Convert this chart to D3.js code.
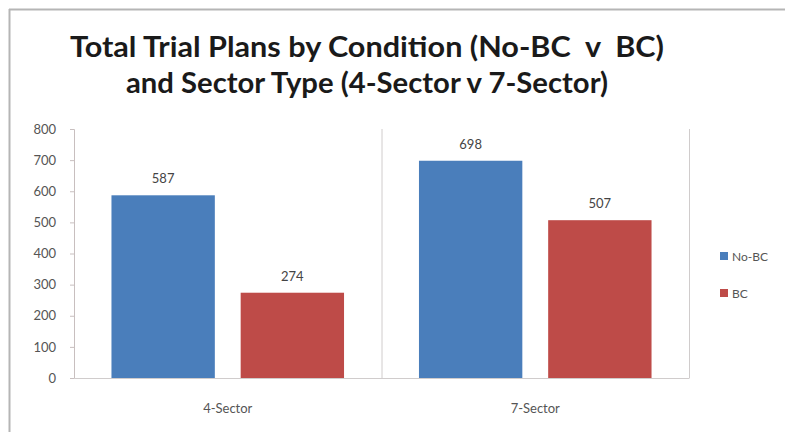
<!DOCTYPE html>
<html><head><meta charset="utf-8">
<script src="https://cdn.jsdelivr.net/npm/d3@7"></script>
<style>body{margin:0;background:#fff}svg{display:block}</style>
</head><body>
<svg id="c" width="785" height="432"></svg>
<script>
const categories = ["4-Sector", "7-Sector"];
const seriesNames = ["No-BC", "BC"];
const noBC = [587, 698];
const bc = [274, 507];
const yTicks = [0, 100, 200, 300, 400, 500, 600, 700, 800];
const titleLines = ["Total Trial Plans by Condition (No-BC  v  BC)", "and Sector Type (4-Sector v 7-Sector)"];
const colors = ["#4a7ebb", "#be4b48"];

const svg = d3.select("#c");
svg.append("rect").attr("width",785).attr("height",432).attr("fill","#fff");
// frame shadow lines (top and left)
svg.append("line").attr("x1",9).attr("x2",785).attr("y1",9.5).attr("y2",9.5).attr("stroke","#b5b5b5").attr("stroke-width",2);
svg.append("line").attr("x1",9.5).attr("x2",9.5).attr("y1",9).attr("y2",432).attr("stroke","#b5b5b5").attr("stroke-width",2);

const font = "Lato, 'Open Sans', 'Liberation Sans', sans-serif";
const L = 74, R = 689, T = 129, B = 378;
const x0 = d3.scaleBand().domain(categories).range([L, R]).padding(0);
const x1 = d3.scaleBand().domain(seriesNames).range([0, x0.bandwidth()]).paddingInner(0.2).paddingOuter(0.29);
const y = d3.scaleLinear().domain([0, 800]).range([B, T]);

// title
svg.append("g").selectAll("text").data(titleLines).join("text")
  .attr("x", 367).attr("y", (d,i)=> 57 + i*36)
  .attr("text-anchor","middle").attr("font-family",font).attr("font-weight","bold")
  .attr("font-size",29).attr("fill","#1a1a1a")
  .style("white-space","pre").attr("xml:space","preserve")
  .attr("textLength",(d,i)=> i===0 ? 594 : 482).attr("lengthAdjust","spacingAndGlyphs")
  .text(d=>d);

// y axis
const yAxis = d3.axisLeft(y).tickValues(yTicks).tickSize(4).tickPadding(14);
const gy = svg.append("g").attr("transform",`translate(${L},0)`).call(yAxis);
gy.select(".domain").attr("stroke","#c8bfbf");
gy.selectAll(".tick line").attr("stroke","#c8bfbf");
gy.selectAll(".tick text").attr("font-family",font).attr("font-size",13).attr("fill","#555");

// x axis
const xAxis = d3.axisBottom(x0).tickSize(0).tickPadding(26);
const gx = svg.append("g").attr("transform",`translate(0,${B})`).call(xAxis);
gx.select(".domain").attr("stroke","#d0cccc");
gx.selectAll(".tick text").attr("font-family",font).attr("font-size",13).attr("fill","#555");

// category separators
const seps = [x0(categories[1]), R];
svg.append("g").selectAll("line").data(seps).join("line")
  .attr("x1",d=>d+0.5).attr("x2",d=>d+0.5).attr("y1",T).attr("y2",B)
  .attr("stroke","#d0cccc");

// bars
const rows = categories.map((c,i)=>({cat:c, vals:[noBC[i], bc[i]]}));
const g = svg.append("g").selectAll("g").data(rows).join("g")
  .attr("transform",d=>`translate(${x0(d.cat)},0)`);
g.selectAll("rect").data(d=>d.vals.map((v,j)=>({v, s:seriesNames[j], j}))).join("rect")
  .attr("x",d=>x1(d.s)).attr("width",x1.bandwidth())
  .attr("y",d=>y(d.v)).attr("height",d=>y(0)-y(d.v))
  .attr("fill",d=>colors[d.j]);
g.selectAll("text").data(d=>d.vals.map((v,j)=>({v, s:seriesNames[j], j}))).join("text")
  .attr("x",d=>x1(d.s)+x1.bandwidth()/2).attr("y",d=>y(d.v)-12)
  .attr("text-anchor","middle").attr("font-family",font).attr("font-size",13).attr("fill","#444")
  .text(d=>d.v);

// legend
const lg = svg.append("g").selectAll("g").data(seriesNames).join("g")
  .attr("transform",(d,i)=>`translate(720,${256 + i*37})`);
lg.append("rect").attr("x",0).attr("y",-4).attr("width",8).attr("height",8).attr("fill",(d,i)=>colors[i]);
lg.append("text").attr("x",12).attr("y",4.5).attr("font-family",font).attr("font-size",12).attr("fill","#555").text(d=>d);
</script>
</body></html>
